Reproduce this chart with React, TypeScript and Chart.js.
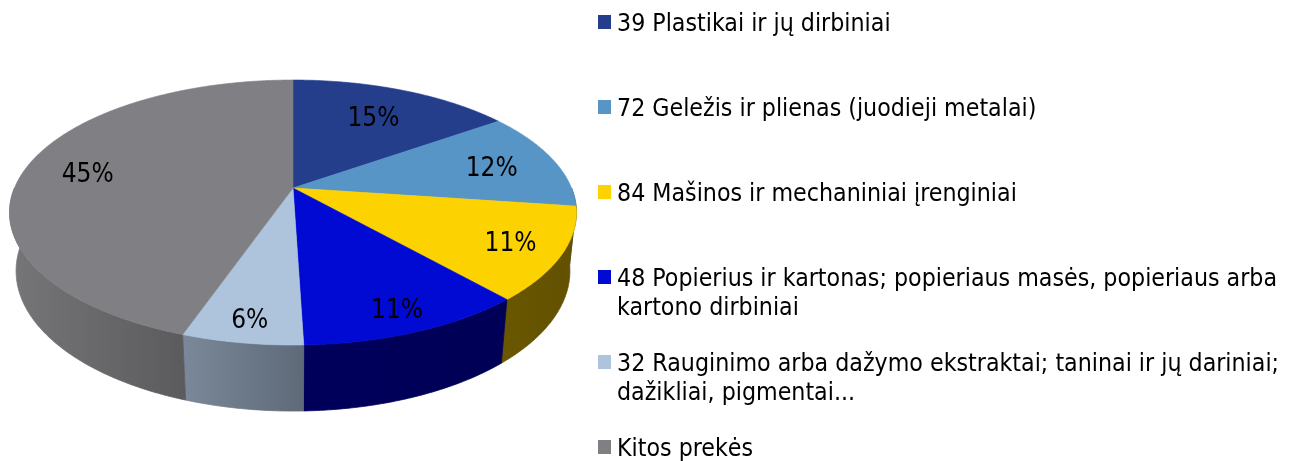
import React, { useEffect, useRef } from "react";
import { Chart, registerables } from "chart.js";

Chart.register(...registerables);

const categories = [
  "39 Plastikai ir jų dirbiniai",
  "72 Geležis ir plienas (juodieji metalai)",
  "84 Mašinos ir mechaniniai įrenginiai",
  "48 Popierius ir kartonas; popieriaus masės, popieriaus arba kartono dirbiniai",
  "32 Rauginimo arba dažymo ekstraktai; taninai ir jų dariniai; dažikliai, pigmentai...",
  "Kitos prekės",
];
const shares = [15.2, 12.0, 11.3, 11.0, 5.8, 44.7];

const topColors = ["#243E8C", "#5795C6", "#FCD200", "#000AD2", "#ADC4DC", "#808084"];
const sideColors = [
  ["#162656", "#162656"],
  ["#35597A", "#35597A"],
  ["#6A5700", "#625000"],
  ["#00005C", "#000056"],
  ["#7A8899", "#5E6A78"],
  ["#767678", "#5B5B5E"],
];

const FONT = "'DejaVu Sans Condensed', 'Noto Sans', sans-serif";

// camera / perspective parameters for the 3D look
const CAM = { tilt: (27.35 * Math.PI) / 180, dist: 4.8, focal: 1337, depth: 0.238 };

function project(cx: number, cy: number, u: number, v: number, z: number): [number, number] {
  const s = Math.sin(CAM.tilt);
  const c = Math.cos(CAM.tilt);
  const w = CAM.dist + v * c - z * s;
  return [cx + (u * CAM.focal) / w, cy - ((v * s + z * c) * CAM.focal) / w];
}

const pie3d = {
  id: "pie3d",
  beforeDatasetsDraw(chart: any) {
    const ctx: CanvasRenderingContext2D = chart.ctx;
    const meta = chart.getDatasetMeta(0);
    const arcs = meta.data as any[];
    if (!arcs.length) return false;
    const cx = arcs[0].x;
    const cy = arcs[0].y;
    const h = CAM.depth;
    const step = Math.PI / 360;

    ctx.save();
    // side walls (front half only)
    arcs.forEach((arc, i) => {
      const a0 = arc.startAngle + Math.PI / 2;
      const a1 = arc.endAngle + Math.PI / 2;
      const lo = Math.max(a0, Math.PI / 2);
      const hi = Math.min(a1, (3 * Math.PI) / 2);
      if (hi <= lo) return;
      const n = Math.max(2, Math.ceil((hi - lo) / step));
      const top: [number, number][] = [];
      const bot: [number, number][] = [];
      for (let k = 0; k <= n; k++) {
        const t = lo + ((hi - lo) * k) / n;
        const u = Math.sin(t);
        const v = Math.cos(t);
        top.push(project(cx, cy, u, v, 0));
        bot.push(project(cx, cy, u, v, -h));
      }
      let minX = Infinity;
      let maxX = -Infinity;
      [...top, ...bot].forEach((p) => {
        minX = Math.min(minX, p[0]);
        maxX = Math.max(maxX, p[0]);
      });
      const g = ctx.createLinearGradient(minX, 0, maxX, 0);
      g.addColorStop(0, sideColors[i][0]);
      g.addColorStop(1, sideColors[i][1]);
      ctx.beginPath();
      ctx.moveTo(top[0][0], top[0][1]);
      top.forEach((p) => ctx.lineTo(p[0], p[1]));
      for (let k = bot.length - 1; k >= 0; k--) ctx.lineTo(bot[k][0], bot[k][1]);
      ctx.closePath();
      ctx.fillStyle = g;
      ctx.fill();
      ctx.strokeStyle = g;
      ctx.lineWidth = 0.8;
      ctx.stroke();
    });

    // top faces
    arcs.forEach((arc, i) => {
      const a0 = arc.startAngle + Math.PI / 2;
      const a1 = arc.endAngle + Math.PI / 2;
      const n = Math.max(2, Math.ceil((a1 - a0) / step));
      ctx.beginPath();
      const c0 = project(cx, cy, 0, 0, 0);
      ctx.moveTo(c0[0], c0[1]);
      for (let k = 0; k <= n; k++) {
        const t = a0 + ((a1 - a0) * k) / n;
        const p = project(cx, cy, Math.sin(t), Math.cos(t), 0);
        ctx.lineTo(p[0], p[1]);
      }
      ctx.closePath();
      ctx.fillStyle = topColors[i];
      ctx.fill();
      ctx.strokeStyle = topColors[i];
      ctx.lineWidth = 0.6;
      ctx.stroke();
    });

    // percentage labels
    const total = shares.reduce((a, b) => a + b, 0);
    ctx.fillStyle = "#000";
    ctx.font = `26px ${FONT}`;
    ctx.textAlign = "center";
    ctx.textBaseline = "middle";
    arcs.forEach((arc, i) => {
      const mid = (arc.startAngle + arc.endAngle) / 2 + Math.PI / 2;
      const v0 = Math.cos(mid);
      const r = 0.78 - 0.09 * v0;
      const p = project(cx, cy, Math.sin(mid) * r, v0 * r, 0);
      const pct = Math.round((shares[i] / total) * 100);
      ctx.fillText(`${pct}%`, p[0], p[1] + 3);
    });
    ctx.restore();
    return false;
  },
};

export default function App() {
  const ref = useRef<HTMLCanvasElement | null>(null);
  useEffect(() => {
    if (!ref.current) return;
    const chart = new Chart(ref.current, {
      type: "pie",
      data: {
        labels: categories,
        datasets: [{ data: shares, backgroundColor: topColors, borderWidth: 0 }],
      },
      options: {
        responsive: false,
        animation: false,
        events: [],
        layout: { padding: { left: 0, right: 14, top: 0, bottom: 85 } },
        plugins: { legend: { display: false }, tooltip: { enabled: false } },
      },
      plugins: [pie3d as any],
    });
    return () => chart.destroy();
  }, []);

  return (
    <div
      style={{
        position: "absolute",
        left: 0,
        top: 0,
        width: 1294,
        height: 461,
        overflow: "hidden",
        background: "#fff",
      }}
    >
      <canvas ref={ref} width={600} height={461} style={{ position: "absolute", left: 0, top: 0 }} />
      <div style={{ position: "absolute", left: 598, top: 8, fontFamily: FONT, color: "#000" }}>
        {categories.map((name, i) => (
          <div key={i} style={{ height: 85, display: "flex", alignItems: "flex-start" }}>
            <div
              style={{
                width: 13,
                height: 14,
                marginTop: 7,
                background: topColors[i],
                flex: "0 0 auto",
              }}
            />
            <div style={{ marginLeft: 6, fontSize: 24.7, lineHeight: "29px", width: 674 }}>{name}</div>
          </div>
        ))}
      </div>
    </div>
  );
}
